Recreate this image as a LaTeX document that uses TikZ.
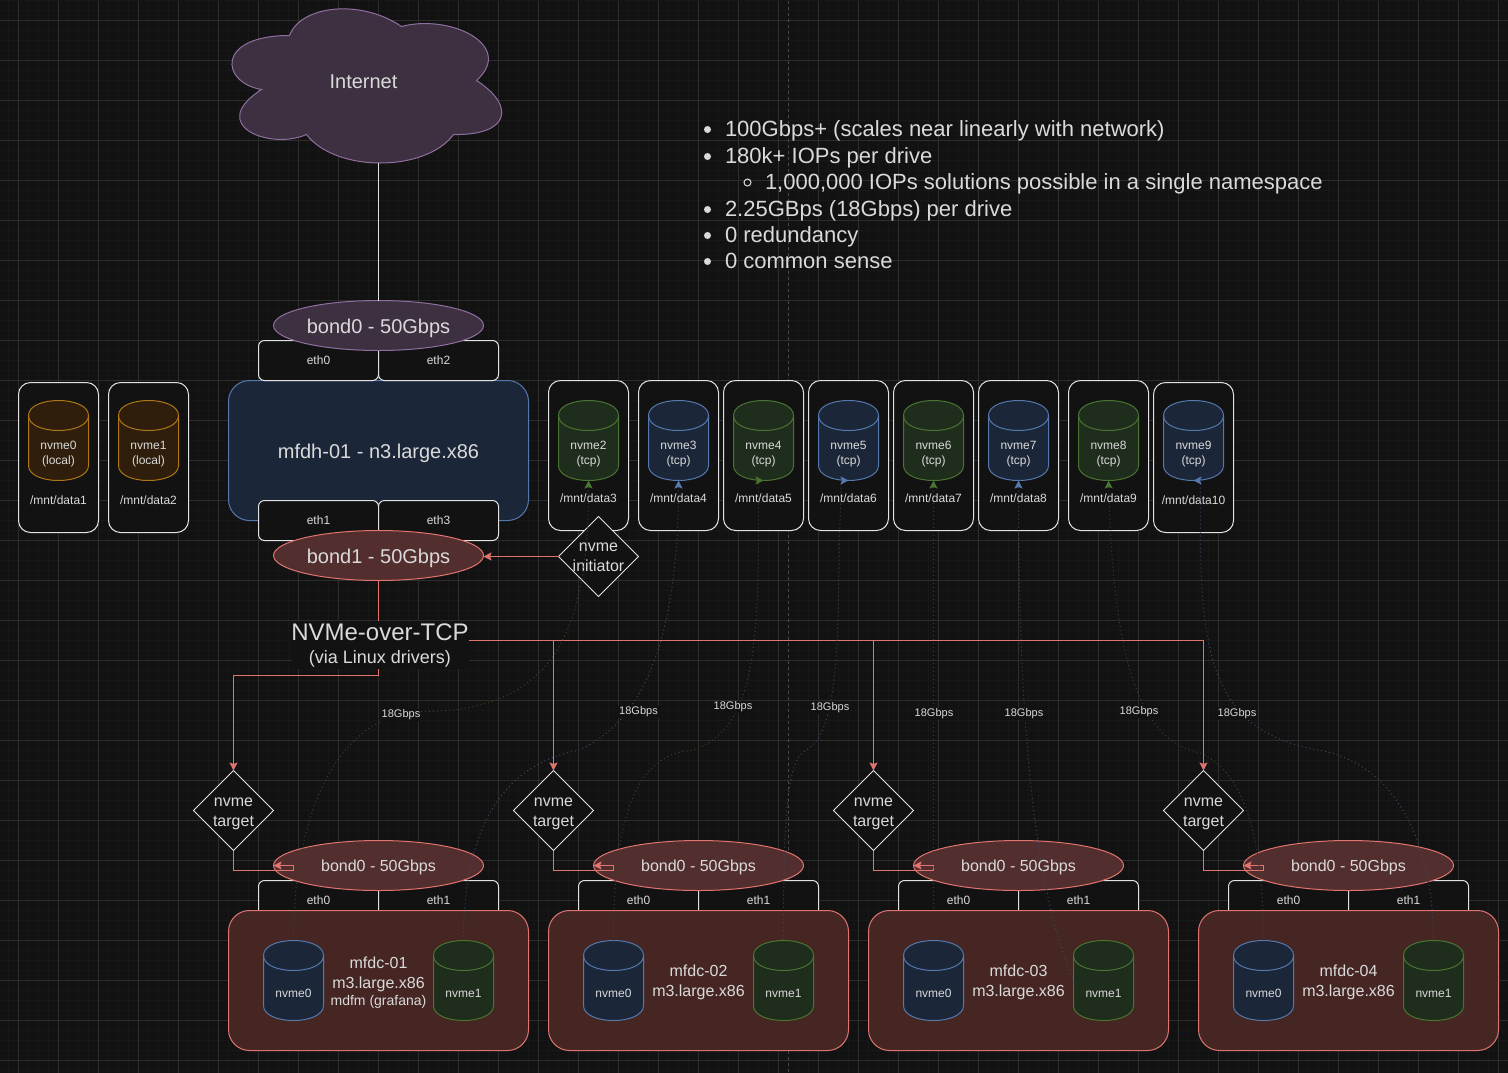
\documentclass[tikz,border=0pt]{standalone}
\usepackage{fontspec}
\setmainfont{Liberation Sans}
\usetikzlibrary{arrows.meta,shapes.geometric}
\definecolor{pagebg}{HTML}{121212}
\definecolor{gridminor}{HTML}{171717}
\definecolor{gridmajor}{HTML}{2D2D2D}
\definecolor{pagebreak}{HTML}{484848}
\definecolor{inktext}{HTML}{DADADA}
\definecolor{inkline}{HTML}{E2E2E2}
\definecolor{redline}{HTML}{E0746F}
\definecolor{redhost}{HTML}{452623}
\definecolor{redbond}{HTML}{532E2E}
\definecolor{bluefill}{HTML}{1B2639}
\definecolor{blueline}{HTML}{5578AD}
\definecolor{greenfill}{HTML}{1F2D1C}
\definecolor{greenline}{HTML}{4A7431}
\definecolor{orangefill}{HTML}{2E1E0B}
\definecolor{orangeline}{HTML}{AD7716}
\definecolor{purplefill}{HTML}{3D3040}
\definecolor{purpleline}{HTML}{8F6FA0}
\tikzset{
	font=\fontsize{12}{15}\selectfont,
	every node/.style={text=inktext, inner sep=0pt, outer sep=0pt, align=center},
	card/.style={draw=inkline, fill=pagebg, rounded corners=12pt, minimum width=80pt, minimum height=150pt},
	ethbox/.style={draw=inkline, fill=pagebg, rounded corners=6pt, minimum width=120pt, minimum height=40pt},
	drivebox/.style={minimum width=60pt, minimum height=80pt, anchor=north},
	bond/.style={shape=ellipse, minimum width=210pt, minimum height=50pt, text depth=0pt},
	bondlarge/.style={bond, font=\fontsize{20}{24}\selectfont, text height=15.6pt},
	bondsmall/.style={bond, font=\fontsize{16}{20}\selectfont, text height=11pt},
	purplebond/.style={draw=purpleline, fill=purplefill},
	redbondshape/.style={draw=redline, fill=redbond},
	host/.style={draw, rounded corners=21pt, minimum width=300pt, minimum height=140pt},
	gate/.style={shape=diamond, draw=inkline, fill=pagebg, minimum width=80pt, minimum height=80pt},
	gatetext/.style={font=\fontsize{16}{20}\selectfont},
	rate/.style={fill=pagebg, font=\fontsize{11}{13}\selectfont, inner sep=1pt},
	noteline/.style={anchor=base west, font=\fontsize{22}{26}\selectfont},
	redlink/.style={draw=redline},
	redarrow/.style={redlink, -{Stealth[length=8pt,width=8pt,inset=1.5pt]}},
	greenwire/.style={draw=greenline!55!pagebg, dash pattern=on 1pt off 3pt, {Stealth[length=8pt,width=8pt,inset=1.5pt,color=greenline]}-},
	bluewire/.style={draw=blueline!55!pagebg, dash pattern=on 1pt off 3pt, {Stealth[length=8pt,width=8pt,inset=1.5pt,color=blueline]}-}
}
\def\driveshape(#1)#2{\draw[draw=#2line, fill=#2fill] ([shift={(-30,15)}]#1.north)
	.. controls ([shift={(-30,-5)}]#1.north) and ([shift={(30,-5)}]#1.north) .. ([shift={(30,15)}]#1.north)
	-- ([shift={(30,65)}]#1.north)
	.. controls ([shift={(30,85)}]#1.north) and ([shift={(-30,85)}]#1.north) .. ([shift={(-30,65)}]#1.north) -- cycle;
	\draw[draw=#2line] ([shift={(-30,15)}]#1.north) .. controls ([shift={(-30,35)}]#1.north) and ([shift={(30,35)}]#1.north) .. ([shift={(30,15)}]#1.north);}
\def\drivecard(#1,#2)(#3)[#4]#5#6{
	\node[card, anchor=north west] (card#3) at (#1,#2) {};
	\node[drivebox] (#3) at (#1+40,400) {};
	\driveshape(#3){#4}
	\node (#3text) at (#1+40,453.5) {#5};
	\node (mnt#3) at (#1+40,#2+118) {#6};
}
\def\computegroup(#1)(#2)#3{
	\node[gate] (tgt#2) at (#1+5,810) {};
	\node[gatetext] (tgttext#2) at (#1+5,813) {nvme\\target};
	\node[ethbox, anchor=north west] (etha#2) at (#1+30,880) {};
	\node[ethbox, anchor=north west] (ethb#2) at (#1+150,880) {};
	\node (ethatext#2) at (#1+90,900) {eth0};
	\node (ethbtext#2) at (#1+210,900) {eth1};
	\node[bondsmall, redbondshape] (bond#2) at (#1+150,865) {bond0 - 50Gbps};
	\node[host, draw=redline, fill=redhost, anchor=north west] (host#2) at (#1,910) {};
	\node[font=\fontsize{16}{20}\selectfont] (hosttext#2) at (#1+150,982) {#3};
	\node[drivebox] (zero#2) at (#1+65,940) {};
	\driveshape(zero#2){blue}
	\node (zerotext#2) at (#1+65,992.5) {nvme0};
	\node[drivebox] (one#2) at (#1+235,940) {};
	\driveshape(one#2){green}
	\node (onetext#2) at (#1+235,992.5) {nvme1};
	\draw[redarrow] (tgt#2.south) |- (#1+65,870) -- (#1+65,865) -- (bond#2.west);
}

\begin{document}
\begin{tikzpicture}[x=1pt,y=-1pt,line width=1pt]
			\useasboundingbox (-0.5,-0.5) rectangle (1507.5,1071.5);
			%%%%% PAGE %%%%%
			\fill[pagebg] (-3,-3) rectangle (1511,1075);
			\draw[gridminor, shift={(8,10)}, step=10pt] (-8,-10) grid (1500,1062);
			\draw[gridmajor, shift={(18,20)}, step=40pt] (-18,-20) grid (1490,1052);
			\draw[pagebreak, dash pattern=on 3pt off 3pt] (788,0) -- (788,1072);
			
			%%%%% UPLINK %%%%%
			\draw[draw=purpleline, fill=purplefill] (289,35) .. controls (300,5) and (360,-2) .. (401,26)
				.. controls (450,13) and (515,45) .. (476,80)
				.. controls (515,105) and (510,135) .. (453,134)
				.. controls (425,172) and (335,172) .. (306,134)
				.. controls (270,150) and (205,125) .. (261,89)
				.. controls (220,82) and (215,35) .. (289,35);
			\node[font=\fontsize{20}{24}\selectfont] (internet) at (363,81.5) {Internet};
			\coordinate (cloudfoot) at (378,162);
			
			%%%%% HEAD NODE %%%%%
			\node[host, draw=blueline, fill=bluefill, anchor=north west] (head) at (228,380) {};
			\node[font=\fontsize{20}{24}\selectfont, text height=15.4pt, text depth=0pt] (headtext) at (378,450) {mfdh-01 - n3.large.x86};
			\node[ethbox, anchor=north west] (eth0) at (258,340) {eth0};
			\node[ethbox, anchor=north west] (eth2) at (378,340) {eth2};
			\node[ethbox, anchor=north west] (eth1) at (258,500) {eth1};
			\node[ethbox, anchor=north west] (eth3) at (378,500) {eth3};
			\node[bondlarge, purplebond] (bondtop) at (378,325) {bond0 - 50Gbps};
			\node[bondlarge, redbondshape] (bondlow) at (378,555) {bond1 - 50Gbps};
			\draw[inkline] (cloudfoot) -- (bondtop.north);
			
			%%%%% DRIVES %%%%%
			\drivecard(18,382)(nvme0)[orange]{nvme0\\(local)}{/mnt/data1}
			\drivecard(108,382)(nvme1)[orange]{nvme1\\(local)}{/mnt/data2}
			\drivecard(548,380)(nvme2)[green]{nvme2\\(tcp)}{/mnt/data3}
			\drivecard(638,380)(nvme3)[blue]{nvme3\\(tcp)}{/mnt/data4}
			\drivecard(723,380)(nvme4)[green]{nvme4\\(tcp)}{/mnt/data5}
			\drivecard(808,380)(nvme5)[blue]{nvme5\\(tcp)}{/mnt/data6}
			\drivecard(893,380)(nvme6)[green]{nvme6\\(tcp)}{/mnt/data7}
			\drivecard(978,380)(nvme7)[blue]{nvme7\\(tcp)}{/mnt/data8}
			\drivecard(1068,380)(nvme8)[green]{nvme8\\(tcp)}{/mnt/data9}
			\drivecard(1153,382)(nvme9)[blue]{nvme9\\(tcp)}{/mnt/data10}
			
			\node[gate] (initiator) at (598,556) {};
			\node[gatetext] (initiatortext) at (598,556.5) {nvme\\initiator};
			\draw[redarrow] (initiator.west) -- (bondlow.east |- initiator.west);
			
			%%%%% CACHE NODES %%%%%
			\computegroup(228)(a){mfdc-01\\m3.large.x86\\[-3pt]{\fontsize{14}{16}\selectfont mdfm (grafana)}}
			\computegroup(548)(b){mfdc-02\\m3.large.x86}
			\computegroup(868)(c){mfdc-03\\m3.large.x86}
			\computegroup(1198)(d){mfdc-04\\m3.large.x86}
			
			%%%%% FABRIC %%%%%
			\node[fill=pagebg, minimum width=177pt, minimum height=48pt] (fabric) at (379.5,644) {};
			\node[font=\fontsize{24}{28}\selectfont, anchor=base] (fabricname) at (379.5,640) {NVMe-over-TCP};
			\node[font=\fontsize{18}{22}\selectfont, anchor=base] (fabricvia) at (379.5,663) {(via Linux drivers)};
			\draw[redlink] (bondlow.south) -- (fabric.north -| bondlow.south);
			\draw[redarrow] (fabric.south -| bondlow.south) |- (233,675) -- (tgta.north);
			\draw[redlink] (fabric.east |- 0,640) -- (1203,640);
			\draw[redarrow] (tgtb.north |- 0,640) -- (tgtb.north);
			\draw[redarrow] (tgtc.north |- 0,640) -- (tgtc.north);
			\draw[redarrow] (tgtd.north |- 0,640) -- (tgtd.north);
			
			%%%%% WIRES %%%%%
			\draw[greenwire] (nvme2.south) .. controls (588,620) and (560,711) .. (423,711)
				.. controls (345,711) and (293,800) .. (zeroa.north);
			\draw[bluewire] (nvme3.south) .. controls (678,620) and (650,720) .. (577,750)
				.. controls (500,765) and (463,830) .. (onea.north);
			\draw[greenwire] (nvme4.south) -- (758,480) .. controls (758,630) and (760,730) .. (690,750)
				.. controls (630,755) and (613,830) .. (zerob.north);
			\draw[bluewire] (nvme5.south) -- (841,480) .. controls (835,600) and (845,730) .. (805,750)
				.. controls (785,760) and (783,830) .. (oneb.north);
			\draw[greenwire] (nvme6.south) -- (zeroc.north);
			\draw[bluewire] (nvme7.south) .. controls (1018,700) and (1030,880) .. (onec.west);
			\draw[greenwire] (nvme8.south) .. controls (1112,630) and (1130,730) .. (1190,750)
				.. controls (1240,760) and (1263,830) .. (zerod.north);
			\draw[bluewire] (nvme9.south) -- (1200,480) .. controls (1198,650) and (1205,730) .. (1320,750)
				.. controls (1400,765) and (1433,850) .. (oned.north);
			
			\node[rate] (ratea) at (400.5,714.5) {18Gbps};
			\node[rate] (rateb) at (638,711.5) {18Gbps};
			\node[rate] (ratec) at (732.5,706.5) {18Gbps};
			\node[rate] (rated) at (829.5,707.5) {18Gbps};
			\node[rate] (ratee) at (933.5,713.5) {18Gbps};
			\node[rate] (ratef) at (1023.5,713.5) {18Gbps};
			\node[rate] (rateg) at (1138.5,711.5) {18Gbps};
			\node[rate] (rateh) at (1236.5,713.5) {18Gbps};
			
			%%%%% NOTES %%%%%
			\fill[inktext] (707,129) circle (3.5);
			\node[noteline] (notea) at (724.5,136) {100Gbps+ (scales near linearly with network)};
			\fill[inktext] (707,156) circle (3.5);
			\node[noteline] (noteb) at (724.5,163) {180k+ IOPs per drive};
			\draw[inktext] (747,182) circle (3.5);
			\node[noteline] (notec) at (764.5,189) {1,000,000 IOPs solutions possible in a single namespace};
			\fill[inktext] (707,209) circle (3.5);
			\node[noteline] (noted) at (724.5,216) {2.25GBps (18Gbps) per drive};
			\fill[inktext] (707,235) circle (3.5);
			\node[noteline] (notee) at (724.5,242) {0 redundancy};
			\fill[inktext] (707,261) circle (3.5);
			\node[noteline] (notef) at (724.5,268) {0 common sense};
		\end{tikzpicture}
\end{document}
